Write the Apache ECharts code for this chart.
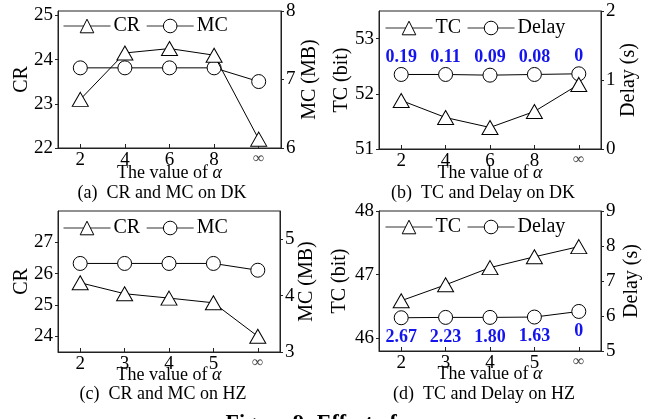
<!DOCTYPE html>
<html>
<head>
<meta charset="utf-8">
<script src="https://cdn.jsdelivr.net/npm/echarts@6/dist/echarts.min.js"></script>
<style>
  html, body { margin: 0; padding: 0; background: #fff; }
  #chart { width: 657px; height: 419px; }
</style>
</head>
<body>
<div id="chart"></div>
<script>
var FONT = '"Liberation Serif", "Times New Roman", serif';

// values of alpha on each dataset
var alphaDK = ['2', '4', '6', '8', '∞'];
var alphaHZ = ['2', '3', '4', '5', '∞'];

// (a) CR and MC on DK
var crDK = [23.1, 24.15, 24.25, 24.1, 22.2];
var mcDK = [7.17, 7.17, 7.17, 7.17, 6.97];
// (b) TC and Delay on DK
var tcDK = [51.88, 51.57, 51.39, 51.68, 52.17];
var delayDK = [1.08, 1.08, 1.07, 1.08, 1.09];
var delayDKText = ['0.19', '0.11', '0.09', '0.08', '0'];
// (c) CR and MC on HZ
var crHZ = [25.71, 25.36, 25.22, 25.07, 24.0];
var mcHZ = [4.57, 4.57, 4.57, 4.57, 4.45];
// (d) TC and Delay on HZ
var tcHZ = [46.59, 46.84, 47.11, 47.28, 47.44];
var delayHZ = [5.95, 5.96, 5.96, 5.97, 6.13];
var delayHZText = ['2.67', '2.23', '1.80', '1.63', '0'];

// tick labels
var crDKTicks = [22, 23, 24, 25];
var mcDKTicks = [6, 7, 8];
var tcDKTicks = [51, 52, 53];
var delayDKTicks = [0, 1, 2];
var crHZTicks = [24, 25, 26, 27];
var mcHZTicks = [3, 4, 5];
var tcHZTicks = [46, 47, 48];
var delayHZTicks = [5, 6, 7, 8, 9];

var panels = [
  { grid: { left: 58, top: 11, width: 223, height: 137 }, cats: alphaDK,
    left: { name: 'CR', min: 22, max: 25.1, ticks: crDKTicks, gap: 26 },
    right: { name: 'MC (MB)', min: 6, max: 8, ticks: mcDKTicks, gap: 19 },
    tri: { name: 'CR', data: crDK }, circ: { name: 'MC', data: mcDK },
    legend: { left: 63, top: 16 }, caption: '(a)  CR and MC on DK', cap: [162, 193], xGap: 16 },
  { grid: { left: 379, top: 11, width: 222, height: 138 }, cats: alphaDK,
    left: { name: 'TC (bit)', min: 51, max: 53.5, ticks: tcDKTicks, gap: 27 },
    right: { name: 'Delay (s)', min: 0, max: 2, ticks: delayDKTicks, gap: 18 },
    tri: { name: 'TC', data: tcDK }, circ: { name: 'Delay', data: delayDK, text: delayDKText, pos: 'top' },
    legend: { left: 385, top: 18 }, caption: '(b)  TC and Delay on DK', cap: [483, 193], xGap: 15 },
  { grid: { left: 58, top: 211, width: 222, height: 141 }, cats: alphaHZ,
    left: { name: 'CR', min: 23.5, max: 28, ticks: crHZTicks, gap: 26 },
    right: { name: 'MC (MB)', min: 3, max: 5.5, ticks: mcHZTicks, gap: 17 },
    tri: { name: 'CR', data: crHZ }, circ: { name: 'MC', data: mcHZ },
    legend: { left: 63, top: 218 }, caption: '(c)  CR and MC on HZ', cap: [163, 394], xGap: 14 },
  { grid: { left: 379, top: 211, width: 222, height: 140 }, cats: alphaHZ,
    left: { name: 'TC (bit)', min: 45.8, max: 48, ticks: tcHZTicks, gap: 29 },
    right: { name: 'Delay (s)', min: 5, max: 9, ticks: delayHZTicks, gap: 21 },
    tri: { name: 'TC', data: tcHZ }, circ: { name: 'Delay', data: delayHZ, text: delayHZText, pos: 'bottom' },
    legend: { left: 385, top: 217 }, caption: '(d)  TC and Delay on HZ', cap: [484, 394], xGap: 14 }
];

var AXIS_COLOR = '#222';

function yAxisOf(ax, gridIndex, side) {
  return {
    type: 'value', gridIndex: gridIndex, position: side,
    min: ax.min, max: ax.max,
    name: ax.name, nameLocation: 'middle', nameRotate: 90, nameGap: ax.gap,
    nameMoveOverlap: false,
    nameTextStyle: { fontFamily: FONT, fontSize: 20, color: '#000' },
    axisLine: { show: true, lineStyle: { color: AXIS_COLOR, width: 1 } },
    axisTick: { show: true, inside: false, length: 3, customValues: ax.ticks, lineStyle: { color: AXIS_COLOR } },
    axisLabel: { customValues: ax.ticks, margin: 5, fontFamily: FONT, fontSize: 19, color: '#000' },
    splitLine: { show: false }
  };
}

var option = {
  animation: false,
  backgroundColor: '#fff',
  grid: [], xAxis: [], yAxis: [], series: [], legend: [], graphic: []
};

panels.forEach(function (p, i) {
  option.grid.push(Object.assign({ show: true, borderColor: AXIS_COLOR, borderWidth: 1 }, p.grid));
  option.xAxis.push({
    type: 'category', gridIndex: i, data: p.cats, boundaryGap: true,
    name: 'The value of {a|α}', nameLocation: 'middle', nameGap: p.xGap,
    nameMoveOverlap: false,
    nameTextStyle: { fontFamily: FONT, fontSize: 18, color: '#000',
      rich: { a: { fontFamily: FONT, fontSize: 18, fontStyle: 'italic', color: '#000' } } },
    axisLine: { lineStyle: { color: AXIS_COLOR, width: 1 } },
    axisTick: { show: true, inside: true, length: 4, alignWithLabel: true, interval: 0, lineStyle: { color: AXIS_COLOR } },
    axisLabel: {
      interval: 0, margin: 3, fontFamily: FONT, fontSize: 19, color: '#000',
      formatter: function (v) { return v === '∞' ? '{inf|∞}' : v; },
      rich: { inf: { fontFamily: FONT, fontSize: 16, color: '#444' } }
    },
    splitLine: { show: false }
  });
  option.yAxis.push(yAxisOf(p.left, i, 'left'));
  option.yAxis.push(yAxisOf(p.right, i, 'right'));

  var common = {
    type: 'line', xAxisIndex: i,
    lineStyle: { color: '#000', width: 1 },
    itemStyle: { color: '#fff', borderColor: '#000', borderWidth: 1 },
    emphasis: { disabled: true }
  };
  option.series.push(Object.assign({}, common, {
    name: p.tri.name, yAxisIndex: 2 * i, data: p.tri.data,
    symbol: 'triangle', symbolSize: [16, 14], z: 3
  }));
  var circ = Object.assign({}, common, {
    name: p.circ.name, yAxisIndex: 2 * i + 1, data: p.circ.data,
    symbol: 'circle', symbolSize: 14, z: 2
  });
  if (p.circ.text) {
    var txt = p.circ.text;
    circ.label = {
      show: true, position: p.circ.pos, distance: p.circ.pos === 'top' ? 1 : 3,
      fontFamily: FONT, fontSize: 18, fontWeight: 'bold', color: '#1414ee',
      formatter: function (d) { return txt[d.dataIndex]; }
    };
  }
  option.series.push(circ);

  option.legend.push({
    left: p.legend.left, top: p.legend.top, padding: 0, itemGap: 6,
    itemWidth: 47, itemHeight: 17, selectedMode: false,
    data: [p.tri.name, p.circ.name],
    lineStyle: { color: '#333', width: 1 },
    itemStyle: { color: '#fff', borderColor: '#000', borderWidth: 1 },
    textStyle: { fontFamily: FONT, fontSize: 20, color: '#000', padding: [0, 0, 0, -2] }
  });

  option.graphic.push({
    type: 'text', x: p.cap[0], y: p.cap[1],
    style: { text: p.caption, fontFamily: FONT, fontSize: 18, fill: '#000', align: 'center', verticalAlign: 'middle' }
  });
});

option.graphic.push({
  type: 'text', x: 320, y: 412,
  style: { text: 'Figure 9: Effect of α', fontFamily: FONT, fontSize: 22, fontWeight: 'bold', fill: '#000', align: 'center', verticalAlign: 'top' }
});

var chart = echarts.init(document.getElementById('chart'), null, { renderer: 'canvas' });
chart.setOption(option);
</script>
</body>
</html>
